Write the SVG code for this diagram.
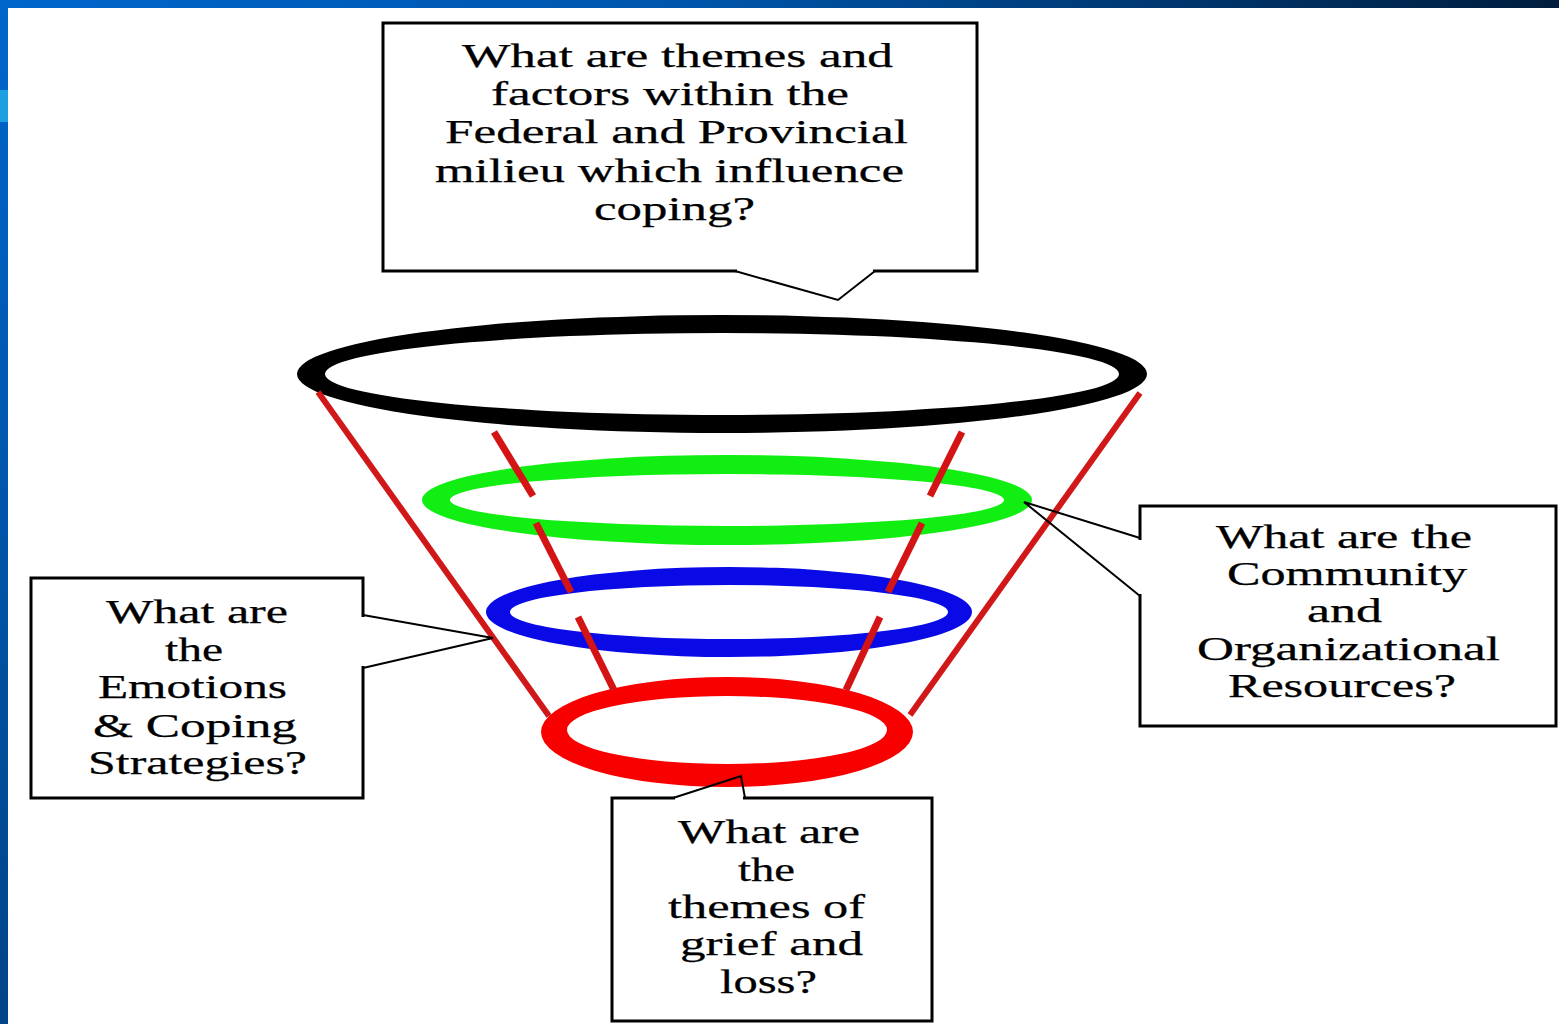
<svg xmlns="http://www.w3.org/2000/svg" width="1559" height="1024" viewBox="0 0 1559 1024">
  <defs>
    <linearGradient id="topBand" x1="0" y1="0" x2="1" y2="0">
      <stop offset="0" stop-color="#0066cc"/>
      <stop offset="0.45" stop-color="#0055aa"/>
      <stop offset="1" stop-color="#001d3d"/>
    </linearGradient>
    <linearGradient id="leftBand" x1="0" y1="0" x2="0" y2="1">
      <stop offset="0" stop-color="#0066cc"/>
      <stop offset="1" stop-color="#004488"/>
    </linearGradient>
    <style>
      .box { fill: #ffffff; stroke: #000000; stroke-width: 3; }
      .ptr { fill: none; stroke: #000000; stroke-width: 2; }
      .gap { fill: none; stroke: #ffffff; stroke-width: 5; }
      .lbl { font-family: "Liberation Serif", "Times New Roman", serif; font-size: 33px; fill: #000000; stroke: #000000; stroke-width: 0.25; }
      .redline { stroke: #d01818; stroke-width: 6; stroke-linecap: butt; fill: none; }
      .redshort { stroke: #d41414; stroke-width: 7; stroke-linecap: butt; fill: none; }
    </style>
  </defs>

  <rect x="0" y="0" width="1559" height="1024" fill="#ffffff"/>
  <rect x="0" y="0" width="1559" height="8" fill="url(#topBand)"/>
  <rect x="0" y="0" width="8" height="1024" fill="url(#leftBand)"/>
  <rect x="0" y="90" width="8" height="32" fill="#1ea0e0"/>

  <!-- funnel rings -->
  <g id="ring-black">
    <path fill="#000000" fill-rule="evenodd" d="M297,374 A425,59 0 1,0 1147,374 A425,59 0 1,0 297,374 Z M325,374 A397,41 0 1,0 1119,374 A397,41 0 1,0 325,374 Z"/>
  </g>
  <g id="ring-green">
    <path fill="#11ee11" fill-rule="evenodd" d="M422,500 A305,45 0 1,0 1032,500 A305,45 0 1,0 422,500 Z M450,500 A277,26 0 1,0 1004,500 A277,26 0 1,0 450,500 Z"/>
  </g>
  <g id="ring-blue">
    <path fill="#0a0ae6" fill-rule="evenodd" d="M486,612 A243,45 0 1,0 972,612 A243,45 0 1,0 486,612 Z M510,612 A219,27 0 1,0 948,612 A219,27 0 1,0 510,612 Z"/>
  </g>
  <g id="ring-red">
    <path fill="#f80000" fill-rule="evenodd" d="M541,732 A186,55 0 1,0 913,732 A186,55 0 1,0 541,732 Z M567,730 A160,34 0 1,0 887,730 A160,34 0 1,0 567,730 Z"/>
  </g>

  <!-- connectors -->
  <g id="connectors">
    <line class="redline" x1="318" y1="392" x2="549" y2="716"/>
    <line class="redline" x1="1140" y1="393" x2="910" y2="715"/>
    <line class="redshort" x1="494" y1="432" x2="533" y2="496"/>
    <line class="redshort" x1="962" y1="432" x2="930" y2="496"/>
    <line class="redshort" x1="536" y1="523" x2="571" y2="592"/>
    <line class="redshort" x1="922" y1="523" x2="888" y2="592"/>
    <line class="redshort" x1="578" y1="617" x2="614" y2="690"/>
    <line class="redshort" x1="880" y1="617" x2="846" y2="690"/>
  </g>

  <!-- top callout -->
  <g id="node-federal">
    <rect class="box" x="383" y="23" width="594" height="248"/>
    <line class="gap" x1="737" y1="271" x2="873" y2="271"/>
    <polyline class="ptr" points="735,271 838,300 875,271"/>
    <text class="lbl" x="462" y="67" textLength="431" lengthAdjust="spacingAndGlyphs">What are themes and</text>
    <text class="lbl" x="491" y="105" textLength="358" lengthAdjust="spacingAndGlyphs">factors within the</text>
    <text class="lbl" x="445" y="143" textLength="463" lengthAdjust="spacingAndGlyphs">Federal and Provincial</text>
    <text class="lbl" x="435" y="182" textLength="469" lengthAdjust="spacingAndGlyphs">milieu which influence</text>
    <text class="lbl" x="594" y="220" textLength="161" lengthAdjust="spacingAndGlyphs">coping?</text>
  </g>

  <!-- left callout -->
  <g id="node-emotions">
    <rect class="box" x="31" y="578" width="332" height="220"/>
    <line class="gap" x1="363" y1="617" x2="363" y2="666"/>
    <polyline class="ptr" points="363,615 493,638 363,668"/>
    <text class="lbl" x="106" y="623" textLength="182" lengthAdjust="spacingAndGlyphs">What are</text>
    <text class="lbl" x="165" y="661" textLength="58" lengthAdjust="spacingAndGlyphs">the</text>
    <text class="lbl" x="98" y="698" textLength="189" lengthAdjust="spacingAndGlyphs">Emotions</text>
    <text class="lbl" x="93" y="737" textLength="204" lengthAdjust="spacingAndGlyphs">&amp; Coping</text>
    <text class="lbl" x="88" y="774" textLength="219" lengthAdjust="spacingAndGlyphs">Strategies?</text>
  </g>

  <!-- right callout -->
  <g id="node-community">
    <rect class="box" x="1140" y="506" width="416" height="220"/>
    <line class="gap" x1="1140" y1="540" x2="1140" y2="594"/>
    <polyline class="ptr" points="1140,538 1024,502 1140,596"/>
    <text class="lbl" x="1216" y="548" textLength="256" lengthAdjust="spacingAndGlyphs">What are the</text>
    <text class="lbl" x="1227" y="585" textLength="240" lengthAdjust="spacingAndGlyphs">Community</text>
    <text class="lbl" x="1307" y="622" textLength="75" lengthAdjust="spacingAndGlyphs">and</text>
    <text class="lbl" x="1197" y="660" textLength="303" lengthAdjust="spacingAndGlyphs">Organizational</text>
    <text class="lbl" x="1228" y="697" textLength="228" lengthAdjust="spacingAndGlyphs">Resources?</text>
  </g>

  <!-- bottom callout -->
  <g id="node-grief">
    <rect class="box" x="612" y="798" width="320" height="223"/>
    <line class="gap" x1="675" y1="798" x2="743" y2="798"/>
    <polyline class="ptr" points="673,798 741,776 745,798"/>
    <text class="lbl" x="678" y="843" textLength="182" lengthAdjust="spacingAndGlyphs">What are</text>
    <text class="lbl" x="738" y="881" textLength="57" lengthAdjust="spacingAndGlyphs">the</text>
    <text class="lbl" x="668" y="918" textLength="197" lengthAdjust="spacingAndGlyphs">themes of</text>
    <text class="lbl" x="680" y="955" textLength="183" lengthAdjust="spacingAndGlyphs">grief and</text>
    <text class="lbl" x="720" y="993" textLength="97" lengthAdjust="spacingAndGlyphs">loss?</text>
  </g>
</svg>
